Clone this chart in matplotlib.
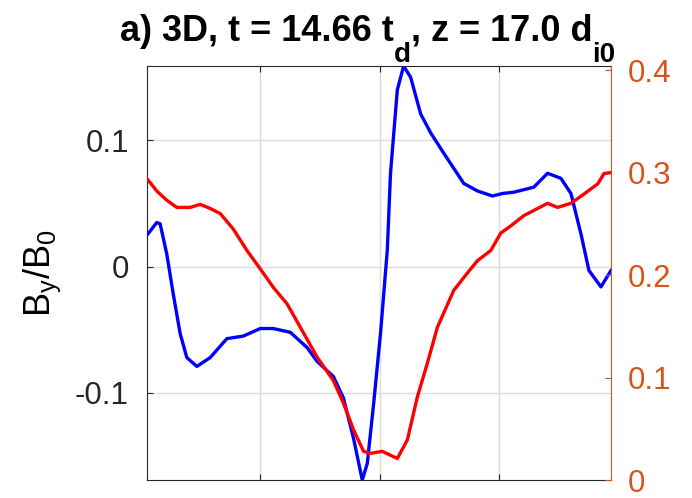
import numpy as np
import matplotlib.pyplot as plt

plt.rcParams['font.family'] = ['Liberation Sans', 'DejaVu Sans']
plt.rcParams['mathtext.default'] = 'regular'

# blue: By/B0 (left axis)
x_blue = [-0.950, -0.868, -0.840, -0.784, -0.731, -0.672, -0.616, -0.532, -0.420, -0.280,
          -0.143, 0.000, 0.109, 0.252, 0.392, 0.476, 0.613, 0.697, 0.782, 0.855,
          0.897, 0.950, 1.008, 1.065, 1.092, 1.149, 1.202, 1.261, 1.345, 1.429,
          1.538, 1.706, 1.821, 1.947, 2.031, 2.126, 2.294, 2.409, 2.521, 2.605,
          2.689, 2.756, 2.857, 2.941]
by = [0.025, 0.035, 0.034, 0.010, -0.021, -0.053, -0.072, -0.079, -0.072, -0.057,
      -0.055, -0.049, -0.049, -0.052, -0.064, -0.075, -0.087, -0.104, -0.136, -0.169,
      -0.156, -0.109, -0.053, 0.013, 0.074, 0.140, 0.159, 0.150, 0.121, 0.106,
      0.090, 0.066, 0.060, 0.056, 0.058, 0.059, 0.063, 0.074, 0.070, 0.058,
      0.026, -0.003, -0.016, -0.003]

# red: right axis
x_red = [-0.950, -0.868, -0.784, -0.700, -0.588, -0.504, -0.420, -0.336, -0.227, -0.112,
         0.000, 0.109, 0.224, 0.336, 0.476, 0.613, 0.697, 0.782, 0.866, 0.924,
         1.023, 1.149, 1.233, 1.317, 1.401, 1.485, 1.622, 1.737, 1.821, 1.933,
         2.017, 2.101, 2.210, 2.409, 2.493, 2.605, 2.714, 2.830, 2.882, 2.941]
red = [0.294, 0.282, 0.273, 0.266, 0.266, 0.269, 0.265, 0.260, 0.245, 0.224,
       0.206, 0.188, 0.172, 0.149, 0.120, 0.097, 0.075, 0.049, 0.028, 0.026,
       0.028, 0.021, 0.039, 0.081, 0.114, 0.149, 0.185, 0.202, 0.214, 0.224,
       0.241, 0.248, 0.258, 0.270, 0.266, 0.270, 0.279, 0.289, 0.299, 0.300]

xticks = [0, 1, 2]
yticks_left = [-0.1, 0, 0.1]
yticklabels_left = ['-0.1', '0', '0.1']
yticks_right = [0, 0.1, 0.2, 0.3, 0.4]
yticklabels_right = ['0', '0.1', '0.2', '0.3', '0.4']

# title pieces (text, is_subscript)
title_parts = [('a) 3D, t = 14.66 t', False), ('d', True), (', z = 17.0 d', False), ('i0', True)]

orange = '#D95319'
dark = '#262626'

fig = plt.figure(figsize=(6.92, 4.98), dpi=100)
ax = fig.add_axes([147 / 692, 1 - 480 / 498, (611 - 147) / 692, (480 - 66) / 498])

ax.plot(x_blue, by, color='blue', lw=2.4, zorder=3)
ax.set_xlim(-0.95, 2.941)
ax.set_ylim(min(by), max(by))
ax.set_xticks(xticks)
ax.set_xticklabels([])
ax.set_yticks(yticks_left)
ax.set_yticklabels(yticklabels_left)
ax.grid(True, color='#dcdcdc', lw=1)
ax.set_axisbelow(True)
ax.tick_params(direction='in', length=4, top=True, right=False, labelsize=22.5,
               colors=dark, pad=13)
for s in ['left', 'top', 'bottom']:
    ax.spines[s].set_color(dark)
ax.spines['right'].set_visible(False)
ax.set_ylabel(r'B$_{y}$/B$_{0}$', fontsize=26)
ax.yaxis.set_label_coords(-0.18, 0.5)

ax2 = ax.twinx()
ax2.plot(x_red, red, color='red', lw=2.4)
ax2.set_ylim(0, 0.404)
ax2.set_yticks(yticks_right)
ax2.set_yticklabels(yticklabels_right)
ax2.tick_params(direction='in', length=4, labelsize=22.5, colors=orange, pad=12)
ax2.spines['right'].set_color(orange)
for s in ['left', 'top', 'bottom']:
    ax2.spines[s].set_visible(False)

# title with MATLAB-like low subscripts, each piece placed after the previous one
base_y = 1 - 41 / 498
prev = None
for txt, sub in title_parts:
    size = 20 if sub else 26
    dy = -15 if sub else 0
    if prev is None:
        prev = fig.text(120 / 692, base_y, txt, fontsize=size, fontweight='bold',
                        va='baseline', ha='left')
    else:
        prev = ax.annotate(txt, xy=(1, base_y), xycoords=(prev, 'figure fraction'),
                           xytext=(0, dy), textcoords='offset points',
                           fontsize=size, fontweight='bold', va='baseline', ha='left',
                           annotation_clip=False)

fig.savefig('out.png', dpi=100)
